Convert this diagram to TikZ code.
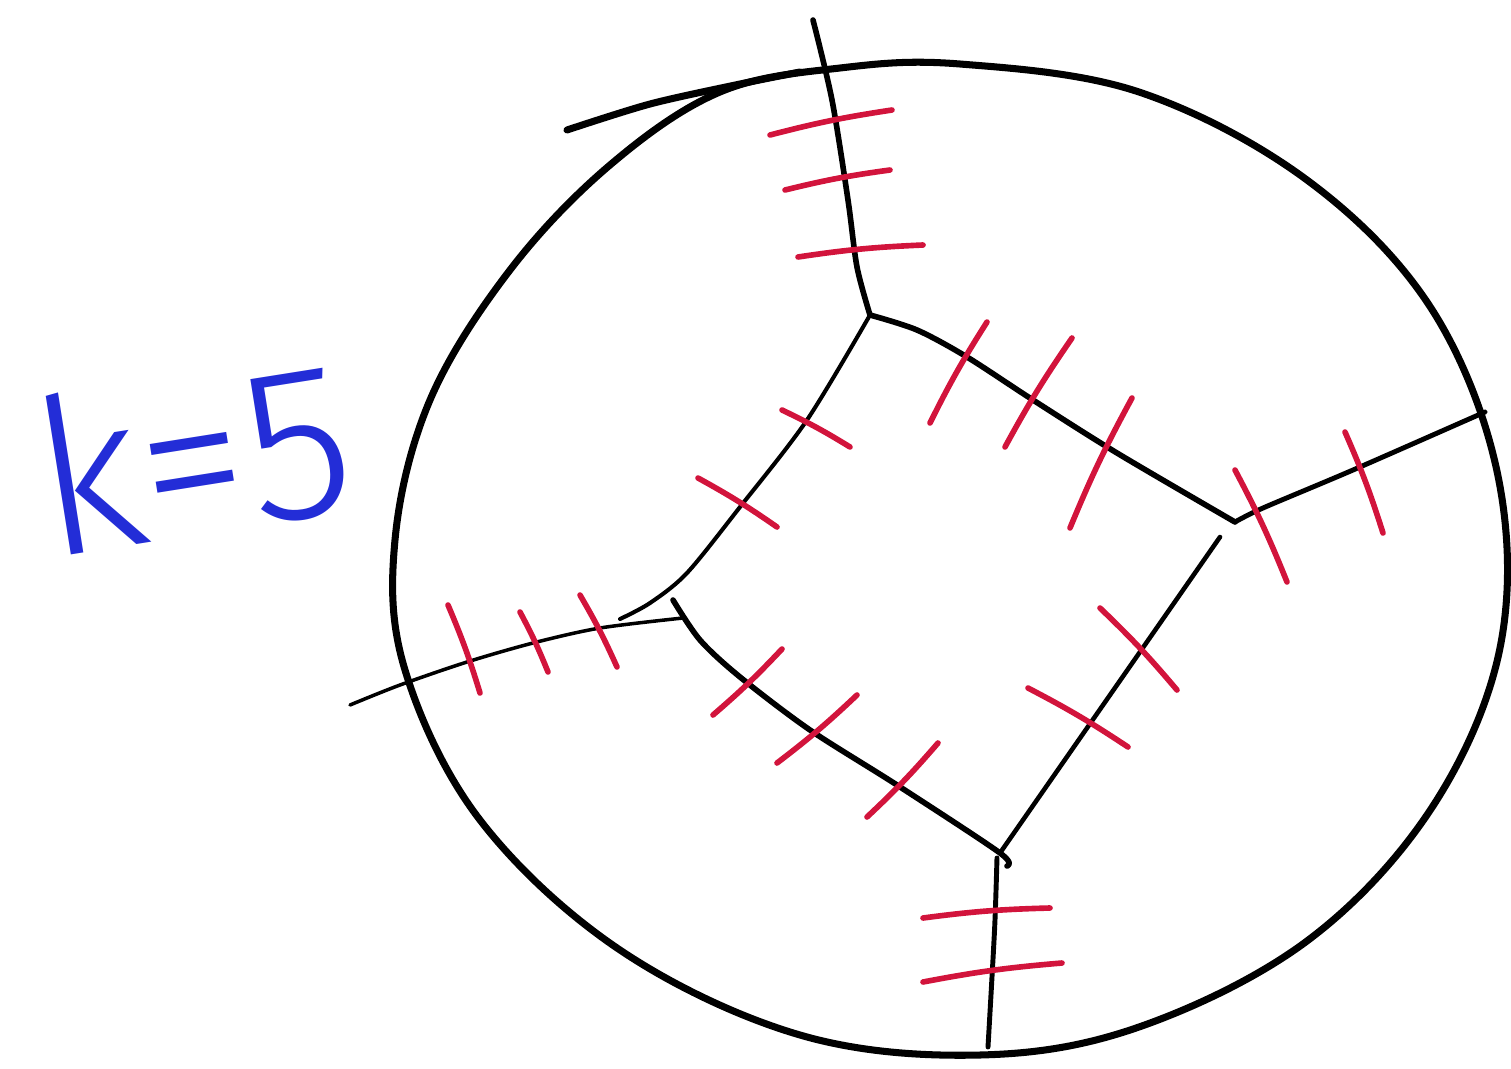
\documentclass[tikz,border=0pt]{standalone}
\usepackage{fontspec}
\usepackage{xcolor}
\usetikzlibrary{positioning}
\newfontfamily\handfont{Fira Sans}[UprightFont=* Light]
\definecolor{penblue}{RGB}{35,45,215}
\definecolor{penred}{RGB}{210,20,60}

\begin{document}
\begin{tikzpicture}[x=0.01cm, y=-0.01cm,
  rim/.style={draw, line width=2pt, line cap=round, line join=round},
  wall/.style={draw, line width=1.6pt, line cap=round, line join=round},
  thin/.style={draw, line width=1.15pt, line cap=round, line join=round},
  redmark/.style={draw=penred, line width=1.6pt, line cap=round}]
  \useasboundingbox (0,0) rectangle (1511,1069);
  \coordinate (A) at (870,315);
  \coordinate (B) at (1235,522);
  \coordinate (Bk) at (1220,537);
  \coordinate (C) at (1000,853);
  \coordinate (D) at (683,618);
  \coordinate (Dk) at (673,600);
  \coordinate (At) at (813,20);
  \coordinate (Br) at (1485,412);
  \coordinate (Cb) at (988,1047);
  \coordinate (Dl) at (350,705);
  \coordinate (Dm) at (620,619);
  \node[text=penblue, font=\fontsize{62}{62}\handfont, inner sep=0pt, rotate=9] (kval) at (192,455) {k=5};
  \draw[rim] plot[smooth cycle, tension=0.6] coordinates {(960,64) (1139,92) (1307,180) (1431,308) (1498,476) (1500,648) (1431,809) (1307,941) (1139,1027) (980,1055) (800,1035) (620,950) (480,820) (405,670) (395,540) (430,400) (510,270) (610,165) (720,92) (840,68)};
  \draw[rim] plot[smooth] coordinates {(567,130) (650,104) (740,84) (800,72)};
  \draw[wall] plot[smooth] coordinates {(At) (832,100) (848,200) (857,267) (A)};
  \draw[wall] plot[smooth] coordinates {(A) (917,330) (967,357) (1033,400) (1117,453) (B)};
  \draw[thin, line width=1.4pt] plot[smooth] coordinates {(B) (1263,508) (1353,470) (Br)};
  \draw[thin] plot[smooth] coordinates {(A) (807,420) (740,507) (687,573) (650,603) (Dm)};
  \draw[thin, line width=1pt] plot[smooth] coordinates {(Dl) (400,685) (467,662) (533,643) (600,628) (D)};
  \draw[wall] plot[smooth] coordinates {(Dk) (700,640) (740,677) (810,730) (897,785) (C) (1007,866)};
  \draw[thin, line width=1.3pt] (C) -- (Bk);
  \draw[thin, line width=1.4pt] plot[smooth] coordinates {(997,858) (995,920) (992,977) (Cb)};
  \foreach \xa/\ya/\xb/\yb in {770/135/892/110, 785/190/890/170, 798/257/923/245,
      930/423/987/322, 1005/447/1072/338, 1070/528/1132/398,
      1235/470/1287/582, 1345/432/1383/533,
      782/410/850/447, 698/478/777/527,
      448/605/480/693, 520/612/548/672, 580/595/617/667,
      782/649/713/715, 857/695/777/763, 938/743/867/817,
      1100/608/1177/690, 1028/688/1128/747,
      923/918/1050/908, 923/982/1062/963}
    \draw[redmark] (\xa,\ya) to[bend left=3] (\xb,\yb);
\end{tikzpicture}
\end{document}
